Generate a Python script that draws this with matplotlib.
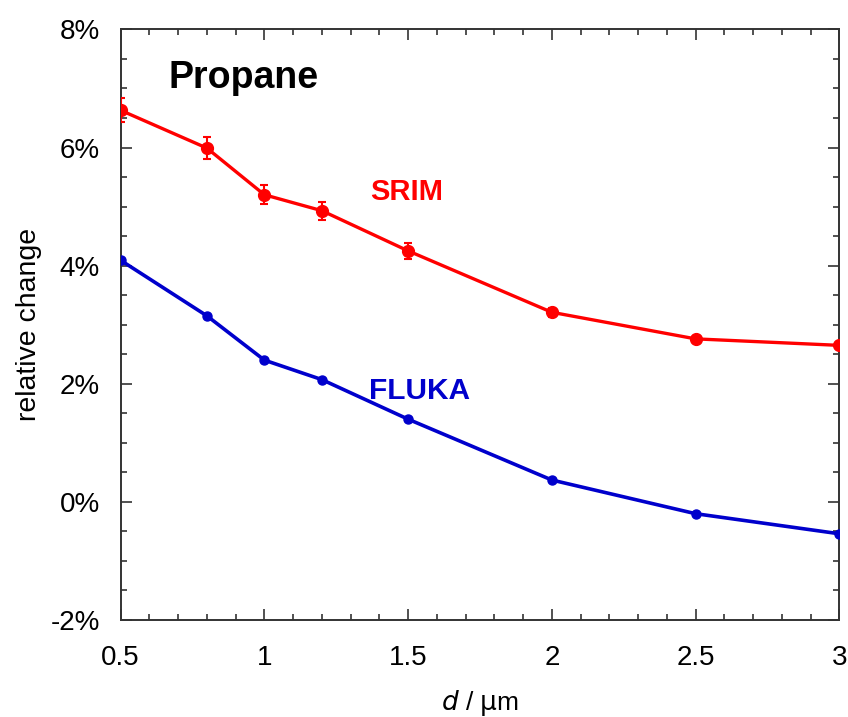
import numpy as np
import matplotlib
matplotlib.use("Agg")
import matplotlib.pyplot as plt
from matplotlib.ticker import MultipleLocator, FuncFormatter

# thickness d in um
d = [0.5, 0.8, 1.0, 1.2, 1.5, 2.0, 2.5, 3.0]

# relative change in percent
srim = [6.63, 5.99, 5.20, 4.93, 4.25, 3.21, 2.76, 2.65]
srim_err = [0.20, 0.19, 0.16, 0.15, 0.14, 0.08, 0.05, 0.04]
fluka = [4.09, 3.15, 2.40, 2.07, 1.40, 0.37, -0.20, -0.54]

plt.rcParams['font.family'] = ['Liberation Sans', 'DejaVu Sans']

fig = plt.figure(figsize=(8.48, 7.17), dpi=100)
ax = fig.add_axes([0.1423, 0.1353, 0.8474, 0.8237])

# SRIM with error bars
ax.errorbar(d, srim, yerr=srim_err, color='#ff0000', lw=2.4, marker='o',
            ms=8.5, capsize=3, elinewidth=1.5, capthick=1.5, zorder=3)
# FLUKA
ax.plot(d, fluka, color='#0000cc', lw=2.6, marker='o', ms=6.5, zorder=3)

ax.text(0.665, 7.0, "Propane", fontsize=27, fontweight='bold', color='black')
ax.text(1.367, 5.11, "SRIM", fontsize=21, fontweight='bold', color='#ff0000')
ax.text(1.365, 1.75, "FLUKA", fontsize=21.5, fontweight='bold', color='#0000cc')

ax.set_xlim(0.5, 3.0)
ax.set_ylim(-2, 8)
ax.xaxis.set_major_locator(MultipleLocator(0.5))
ax.xaxis.set_minor_locator(MultipleLocator(0.1))
ax.yaxis.set_major_locator(MultipleLocator(2))
ax.yaxis.set_minor_locator(MultipleLocator(0.5))
ax.xaxis.set_major_formatter(FuncFormatter(lambda v, p: f"{v:g}"))
ax.yaxis.set_major_formatter(FuncFormatter(lambda v, p: f"{v:g}%"))

ax.tick_params(which='both', direction='in', top=True, right=True,
               color='#333333', width=1.2)
ax.tick_params(which='major', length=8, labelsize=20)
ax.tick_params(which='minor', length=4.5)
ax.tick_params(axis='x', which='major', pad=18)
ax.tick_params(axis='y', which='major', pad=15)
for s in ax.spines.values():
    s.set_color('#333333')
    s.set_linewidth(1.4)

ax.set_ylabel("relative change", fontsize=20.5, labelpad=6)
ax.set_xlabel(r"$d$ / $\mathrm{\mu}$m", fontsize=19, labelpad=12)

fig.savefig("out.png", dpi=100)
